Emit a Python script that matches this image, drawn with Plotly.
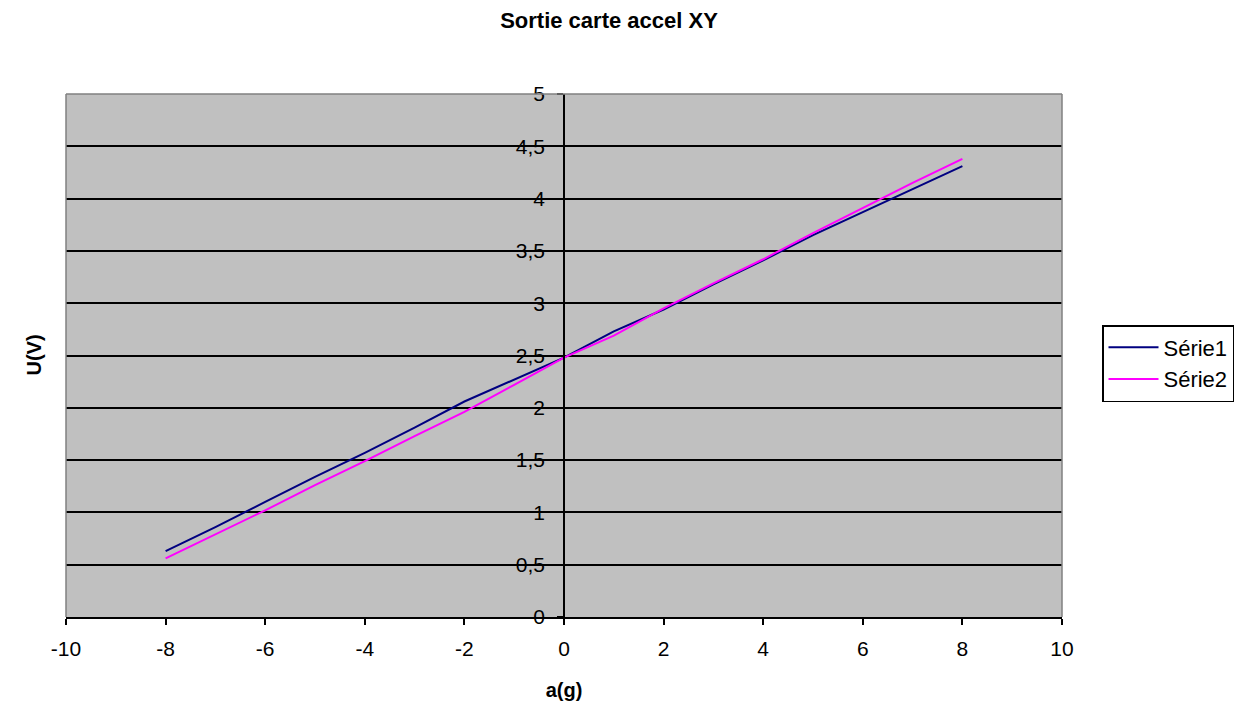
import plotly.graph_objects as go

x_g = [-8, -7, -6, -5, -4, -3, -2, -1, 0, 1, 2, 3, 4, 5, 6, 7, 8]
serie1 = [0.63, 0.86, 1.10, 1.34, 1.57, 1.81, 2.06, 2.27, 2.48, 2.73, 2.94, 3.18, 3.41, 3.65, 3.87, 4.09, 4.31]
serie2 = [0.56, 0.79, 1.02, 1.26, 1.49, 1.73, 1.96, 2.22, 2.48, 2.69, 2.95, 3.19, 3.42, 3.67, 3.91, 4.15, 4.38]
x_ticks = [-10, -8, -6, -4, -2, 0, 2, 4, 6, 8, 10]
x_ticklabels = ["-10", "-8", "-6", "-4", "-2", "0", "2", "4", "6", "8", "10"]
y_ticks = [0, 0.5, 1, 1.5, 2, 2.5, 3, 3.5, 4, 4.5, 5]
y_ticklabels = ["0", "0,5", "1", "1,5", "2", "2,5", "3", "3,5", "4", "4,5", "5"]

fig = go.Figure()
fig.add_trace(go.Scatter(x=x_g, y=serie1, mode="lines", name="Série1",
                         line=dict(color="#000080", width=2)))
fig.add_trace(go.Scatter(x=x_g, y=serie2, mode="lines", name="Série2",
                         line=dict(color="#FF00FF", width=2)))

fig.update_layout(
    width=1246, height=708,
    margin=dict(l=66, r=184, t=94, b=91, autoexpand=False),
    paper_bgcolor="white",
    plot_bgcolor="#C0C0C0",
    font=dict(family="Arial, Liberation Sans, sans-serif", size=21, color="black"),
    title=dict(text="<b>Sortie carte accel XY</b>", x=609/1246, xref="container",
               xanchor="center", y=1-20/708, yanchor="middle",
               font=dict(size=22)),
    xaxis=dict(range=[-10, 10], tickvals=x_ticks, ticktext=x_ticklabels,
               showgrid=False, zeroline=True, automargin=False,
               zerolinecolor="black", zerolinewidth=1.5,
               showline=True, linecolor="black", linewidth=1.5,
               ticks="outside", ticklen=6, tickcolor="black", tickwidth=1.5,
               ticklabelstandoff=6,
               title=dict(text="<b>a(g)</b>", font=dict(size=20), standoff=24)),
    yaxis=dict(range=[0, 5], tickvals=y_ticks, ticktext=y_ticklabels,
               showgrid=True, gridcolor="black", automargin=False,
               gridwidth=1.5, zeroline=False,
               anchor="free", position=0.5,
               showline=True, linecolor="black", linewidth=1.5,
               ticks="outside", ticklen=6, tickcolor="black", tickwidth=1.5,
               ticklabelstandoff=8),
    legend=dict(x=(1102-66)/996, y=(617-325)/523, xanchor="left", yanchor="top",
                bgcolor="white", bordercolor="black", borderwidth=1.5,
                itemwidth=50, tracegroupgap=0,
                font=dict(size=22)),
    showlegend=True,
)

fig.add_annotation(text="<b>U(V)</b>", textangle=-90, xref="paper", yref="paper",
                   x=(33-66)/996, y=0.5, showarrow=False, font=dict(size=20),
                   xanchor="center", yanchor="middle")

# grey plot-area border (top, left, right)
for (x0, y0, x1, y1) in [(0, 1, 1, 1), (0, 0, 0, 1), (1, 0, 1, 1)]:
    fig.add_shape(type="line", xref="paper", yref="paper", x0=x0, y0=y0, x1=x1, y1=y1,
                  line=dict(color="#808080", width=1.5), layer="above")

fig.write_html("out.html")
